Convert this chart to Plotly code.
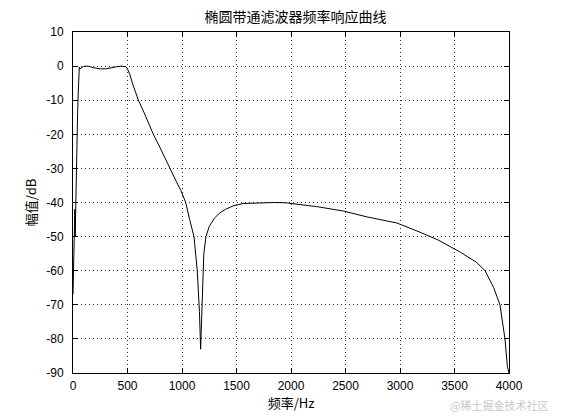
import plotly.graph_objects as go

# Frequency (Hz) and magnitude (dB)
freq_hz = [0, 6, 12, 17, 20, 25, 34, 42, 49, 54, 58, 64, 75, 95, 120, 150, 190,
           250, 300, 350, 400, 440, 470, 486, 500, 523, 550, 600, 650, 700, 737,
           800, 850, 890, 950, 990, 1034, 1070, 1110, 1140, 1160, 1171, 1180,
           1190, 1200, 1220, 1250, 1300, 1349, 1400, 1468, 1560, 1700, 1850,
           1960, 2000, 2235, 2480, 2694, 2970, 3183, 3350, 3550, 3700, 3780,
           3860, 3917, 3963, 3985, 4000]
mag_db = [-67, -56, -50, -42, -50, -38, -24, -14, -7, -2.5, -0.3, -0.8, -0.5,
          -0.1, 0, -0.1, -0.5, -0.8, -0.8, -0.6, -0.2, 0, -0.1, -0.2, -0.8,
          -2.6, -5.5, -10, -13.5, -17.5, -20, -24, -27.5, -30, -34, -36.5, -40,
          -45, -50, -60, -72, -83, -72, -61, -55, -50, -47, -44.5, -43,
          -42, -41, -40.3, -40.05, -40, -40.1, -40.3, -41.2, -42.5, -44.2,
          -46, -48.7, -51, -54.5, -57.5, -60, -65, -70, -80, -88, -90]

x_ticks = [0, 500, 1000, 1500, 2000, 2500, 3000, 3500, 4000]
y_ticks = [10, 0, -10, -20, -30, -40, -50, -60, -70, -80, -90]

title_text = "椭圆带通滤波器频率响应曲线"
x_label = "频率/Hz"
y_label = "幅值/dB"
watermark = "@稀土掘金技术社区"

CJK = "Noto Sans CJK SC"
NUM = "Liberation Sans, Arial, sans-serif"

fig = go.Figure()
fig.add_trace(go.Scatter(x=freq_hz, y=mag_db, mode="lines",
                         line=dict(color="black", width=1), showlegend=False,
                         hoverinfo="skip"))

axis_common = dict(
    showline=True, linecolor="black", linewidth=1, mirror="ticks",
    ticks="inside", ticklen=5, tickcolor="black", tickwidth=1,
    showgrid=True, gridcolor="#333333", griddash="1px,3px", gridwidth=1,
    zeroline=False, automargin=False,
    tickfont=dict(family=NUM, size=12, color="black"),
)

# page body adds an 8px offset, so the figure is sized to fit the window
fig.update_layout(
    width=553, height=412,
    paper_bgcolor="white", plot_bgcolor="white",
    margin=dict(l=65, r=52, t=24, b=47),
    title=dict(text=title_text, x=0.52, xanchor="center",
               y=1 - 4 / 412, yanchor="top",
               font=dict(family=CJK, size=14, color="black")),
    xaxis=dict(range=[0, 4000], tickvals=x_ticks,
               ticktext=[str(v) for v in x_ticks],
               title=dict(text=x_label, standoff=0,
                          font=dict(family=CJK, size=13, color="black")),
               ticklabelstandoff=2, **axis_common),
    yaxis=dict(range=[-90, 10], tickvals=y_ticks,
               ticktext=[str(v) for v in y_ticks],
               title=dict(text=y_label, standoff=6,
                          font=dict(family=CJK, size=13, color="black")),
               ticklabelstandoff=6, **axis_common),
    annotations=[dict(text=watermark, xref="paper", yref="paper",
                      x=1.095, y=-0.095, xanchor="right", yanchor="middle",
                      showarrow=False,
                      font=dict(family=CJK, size=11, color="#c8c8c8"))],
)

fig.write_html("out.html")
